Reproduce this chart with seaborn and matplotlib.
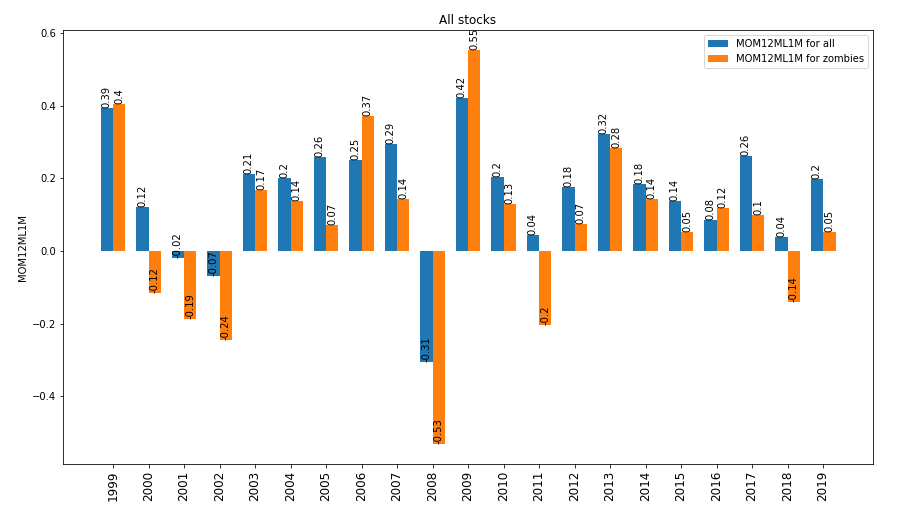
import matplotlib
matplotlib.use("Agg")
import matplotlib.pyplot as plt
import seaborn as sns
import pandas as pd

# Data
years = [str(y) for y in range(1999, 2020)]
mom_all = [0.392, 0.121, -0.019, -0.069, 0.212, 0.201, 0.259, 0.251, 0.293, -0.306,
           0.422, 0.203, 0.044, 0.177, 0.323, 0.184, 0.138, 0.084, 0.262, 0.039, 0.199]
mom_zombies = [0.405, -0.116, -0.188, -0.244, 0.168, 0.138, 0.072, 0.37, 0.143, -0.532,
               0.553, 0.128, -0.204, 0.074, 0.284, 0.143, 0.052, 0.119, 0.099, -0.141, 0.052]
series_names = ["MOM12ML1M for all", "MOM12ML1M for zombies"]

df = pd.DataFrame({
    "year": years * 2,
    "value": mom_all + mom_zombies,
    "series": [series_names[0]] * len(years) + [series_names[1]] * len(years),
})

fig, ax = plt.subplots(figsize=(902 / 72, 512 / 72), dpi=72)
fig.subplots_adjust(left=0.0698, right=0.968, top=0.941, bottom=0.0938)

sns.barplot(data=df, x="year", y="value", hue="series", ax=ax,
            palette=["#1f77b4", "#ff7f0e"], saturation=1, width=0.7,
            linewidth=0)

# value labels at the end of each bar
for container in ax.containers:
    for bar in container:
        h = bar.get_height()
        ax.text(bar.get_x() + bar.get_width() / 2, h, str(round(h, 2)),
                rotation=90, ha="center", va="bottom", fontsize=10)

ax.set_xlim(-1.41, 21.41)
ax.set_title("All stocks", fontsize=12)
ax.set_xlabel("")
ax.set_ylabel("MOM12ML1M", fontsize=10)
plt.xticks(rotation=90, fontsize=12)
plt.yticks(fontsize=10)
ax.legend(loc="upper right", fontsize=10)

plt.savefig("out.png", dpi=72)
